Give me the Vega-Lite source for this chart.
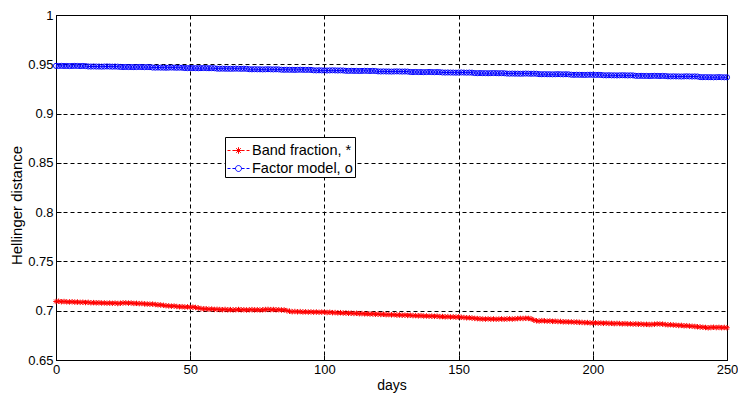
{
  "$schema": "https://vega.github.io/schema/vega-lite/v6.json",
  "width": 671,
  "height": 345,
  "autosize": {"type": "none"},
  "padding": {"left": 56, "top": 15, "right": 11, "bottom": 41},
  "background": "white",
  "config": {
    "font": "Liberation Sans",
    "view": {"stroke": "black", "strokeWidth": 1},
    "axis": {
      "domainColor": "black", "domainWidth": 1, "labelFlush": false,
      "tickColor": "black", "tickSize": -5, "tickWidth": 1,
      "labelPadding": 8, "labelFont": "Liberation Sans", "labelFontSize": 13, "labelColor": "black",
      "titleFont": "Liberation Sans", "titleFontSize": 14, "titleFontWeight": "normal", "titleColor": "black",
      "grid": true, "gridColor": "black", "gridDash": [4, 3], "gridOpacity": 1, "gridWidth": 1
    }
  },
  "data": {"values": [
{"d":0,"b":0.9484,"r":0.7094},{"d":1,"b":0.9483,"r":0.7096},{"d":2,"b":0.9484,"r":0.7091},{"d":3,"b":0.9483,"r":0.7093},{"d":4,"b":0.9483,"r":0.7090},
{"d":5,"b":0.9482,"r":0.7089},{"d":6,"b":0.9483,"r":0.7091},{"d":7,"b":0.9484,"r":0.7087},{"d":8,"b":0.9483,"r":0.7088},{"d":9,"b":0.9482,"r":0.7085},
{"d":10,"b":0.9483,"r":0.7086},{"d":11,"b":0.9482,"r":0.7083},{"d":12,"b":0.9478,"r":0.7085},{"d":13,"b":0.9477,"r":0.7081},{"d":14,"b":0.9478,"r":0.7082},
{"d":15,"b":0.9477,"r":0.7080},{"d":16,"b":0.9477,"r":0.7081},{"d":17,"b":0.9476,"r":0.7078},{"d":18,"b":0.9477,"r":0.7079},{"d":19,"b":0.9478,"r":0.7076},
{"d":20,"b":0.9477,"r":0.7078},{"d":21,"b":0.9476,"r":0.7075},{"d":22,"b":0.9477,"r":0.7077},{"d":23,"b":0.9476,"r":0.7073},{"d":24,"b":0.9473,"r":0.7076},
{"d":25,"b":0.9472,"r":0.7079},{"d":26,"b":0.9473,"r":0.7080},{"d":27,"b":0.9472,"r":0.7077},{"d":28,"b":0.9472,"r":0.7078},{"d":29,"b":0.9471,"r":0.7074},
{"d":30,"b":0.9472,"r":0.7075},{"d":31,"b":0.9473,"r":0.7072},{"d":32,"b":0.9472,"r":0.7073},{"d":33,"b":0.9471,"r":0.7069},{"d":34,"b":0.9472,"r":0.7068},
{"d":35,"b":0.9471,"r":0.7066},{"d":36,"b":0.9467,"r":0.7067},{"d":37,"b":0.9466,"r":0.7063},{"d":38,"b":0.9467,"r":0.7060},{"d":39,"b":0.9466,"r":0.7058},
{"d":40,"b":0.9466,"r":0.7055},{"d":41,"b":0.9465,"r":0.7051},{"d":42,"b":0.9466,"r":0.7049},{"d":43,"b":0.9467,"r":0.7046},{"d":44,"b":0.9466,"r":0.7047},
{"d":45,"b":0.9465,"r":0.7043},{"d":46,"b":0.9466,"r":0.7040},{"d":47,"b":0.9465,"r":0.7041},{"d":48,"b":0.9462,"r":0.7038},{"d":49,"b":0.9461,"r":0.7039},
{"d":50,"b":0.9462,"r":0.7035},{"d":51,"b":0.9461,"r":0.7036},{"d":52,"b":0.9461,"r":0.7033},{"d":53,"b":0.9460,"r":0.7028},{"d":54,"b":0.9461,"r":0.7022},
{"d":55,"b":0.9462,"r":0.7018},{"d":56,"b":0.9461,"r":0.7019},{"d":57,"b":0.9460,"r":0.7015},{"d":58,"b":0.9461,"r":0.7017},{"d":59,"b":0.9460,"r":0.7013},
{"d":60,"b":0.9456,"r":0.7014},{"d":61,"b":0.9455,"r":0.7012},{"d":62,"b":0.9456,"r":0.7010},{"d":63,"b":0.9455,"r":0.7013},{"d":64,"b":0.9455,"r":0.7009},
{"d":65,"b":0.9454,"r":0.7011},{"d":66,"b":0.9455,"r":0.7008},{"d":67,"b":0.9456,"r":0.7010},{"d":68,"b":0.9455,"r":0.7012},{"d":69,"b":0.9454,"r":0.7009},
{"d":70,"b":0.9455,"r":0.7010},{"d":71,"b":0.9454,"r":0.7007},{"d":72,"b":0.9450,"r":0.7009},{"d":73,"b":0.9449,"r":0.7011},{"d":74,"b":0.9450,"r":0.7008},
{"d":75,"b":0.9449,"r":0.7010},{"d":76,"b":0.9449,"r":0.7007},{"d":77,"b":0.9448,"r":0.7009},{"d":78,"b":0.9449,"r":0.7012},{"d":79,"b":0.9450,"r":0.7013},
{"d":80,"b":0.9449,"r":0.7011},{"d":81,"b":0.9448,"r":0.7012},{"d":82,"b":0.9449,"r":0.7009},{"d":83,"b":0.9448,"r":0.7010},{"d":84,"b":0.9445,"r":0.7007},
{"d":85,"b":0.9444,"r":0.7008},{"d":86,"b":0.9445,"r":0.7001},{"d":87,"b":0.9444,"r":0.6995},{"d":88,"b":0.9444,"r":0.6990},{"d":89,"b":0.9443,"r":0.6992},
{"d":90,"b":0.9444,"r":0.6989},{"d":91,"b":0.9445,"r":0.6991},{"d":92,"b":0.9444,"r":0.6987},{"d":93,"b":0.9443,"r":0.6989},{"d":94,"b":0.9444,"r":0.6986},
{"d":95,"b":0.9443,"r":0.6988},{"d":96,"b":0.9439,"r":0.6985},{"d":97,"b":0.9438,"r":0.6987},{"d":98,"b":0.9439,"r":0.6984},{"d":99,"b":0.9438,"r":0.6986},
{"d":100,"b":0.9438,"r":0.6985},{"d":101,"b":0.9437,"r":0.6982},{"d":102,"b":0.9438,"r":0.6984},{"d":103,"b":0.9439,"r":0.6980},{"d":104,"b":0.9438,"r":0.6981},
{"d":105,"b":0.9437,"r":0.6978},{"d":106,"b":0.9438,"r":0.6980},{"d":107,"b":0.9437,"r":0.6976},{"d":108,"b":0.9434,"r":0.6977},{"d":109,"b":0.9433,"r":0.6974},
{"d":110,"b":0.9434,"r":0.6975},{"d":111,"b":0.9433,"r":0.6972},{"d":112,"b":0.9433,"r":0.6974},{"d":113,"b":0.9432,"r":0.6970},{"d":114,"b":0.9433,"r":0.6971},
{"d":115,"b":0.9434,"r":0.6968},{"d":116,"b":0.9433,"r":0.6969},{"d":117,"b":0.9432,"r":0.6966},{"d":118,"b":0.9433,"r":0.6968},{"d":119,"b":0.9432,"r":0.6964},
{"d":120,"b":0.9428,"r":0.6965},{"d":121,"b":0.9427,"r":0.6962},{"d":122,"b":0.9428,"r":0.6964},{"d":123,"b":0.9427,"r":0.6960},{"d":124,"b":0.9427,"r":0.6961},
{"d":125,"b":0.9426,"r":0.6958},{"d":126,"b":0.9427,"r":0.6960},{"d":127,"b":0.9428,"r":0.6956},{"d":128,"b":0.9427,"r":0.6957},{"d":129,"b":0.9426,"r":0.6954},
{"d":130,"b":0.9427,"r":0.6955},{"d":131,"b":0.9426,"r":0.6952},{"d":132,"b":0.9422,"r":0.6954},{"d":133,"b":0.9421,"r":0.6950},{"d":134,"b":0.9422,"r":0.6951},
{"d":135,"b":0.9421,"r":0.6948},{"d":136,"b":0.9421,"r":0.6950},{"d":137,"b":0.9420,"r":0.6946},{"d":138,"b":0.9421,"r":0.6947},{"d":139,"b":0.9422,"r":0.6944},
{"d":140,"b":0.9421,"r":0.6945},{"d":141,"b":0.9420,"r":0.6943},{"d":142,"b":0.9421,"r":0.6944},{"d":143,"b":0.9420,"r":0.6940},{"d":144,"b":0.9417,"r":0.6941},
{"d":145,"b":0.9416,"r":0.6938},{"d":146,"b":0.9417,"r":0.6940},{"d":147,"b":0.9416,"r":0.6936},{"d":148,"b":0.9416,"r":0.6938},{"d":149,"b":0.9415,"r":0.6935},
{"d":150,"b":0.9416,"r":0.6937},{"d":151,"b":0.9417,"r":0.6933},{"d":152,"b":0.9416,"r":0.6931},{"d":153,"b":0.9415,"r":0.6928},{"d":154,"b":0.9416,"r":0.6929},
{"d":155,"b":0.9415,"r":0.6925},{"d":156,"b":0.9411,"r":0.6922},{"d":157,"b":0.9410,"r":0.6920},{"d":158,"b":0.9411,"r":0.6918},{"d":159,"b":0.9410,"r":0.6916},
{"d":160,"b":0.9410,"r":0.6915},{"d":161,"b":0.9409,"r":0.6917},{"d":162,"b":0.9410,"r":0.6914},{"d":163,"b":0.9411,"r":0.6916},{"d":164,"b":0.9410,"r":0.6913},
{"d":165,"b":0.9409,"r":0.6915},{"d":166,"b":0.9410,"r":0.6917},{"d":167,"b":0.9409,"r":0.6914},{"d":168,"b":0.9406,"r":0.6916},{"d":169,"b":0.9405,"r":0.6918},
{"d":170,"b":0.9406,"r":0.6915},{"d":171,"b":0.9405,"r":0.6918},{"d":172,"b":0.9405,"r":0.6920},{"d":173,"b":0.9404,"r":0.6922},{"d":174,"b":0.9405,"r":0.6921},
{"d":175,"b":0.9406,"r":0.6923},{"d":176,"b":0.9405,"r":0.6922},{"d":177,"b":0.9404,"r":0.6918},{"d":178,"b":0.9405,"r":0.6905},{"d":179,"b":0.9404,"r":0.6898},
{"d":180,"b":0.9400,"r":0.6895},{"d":181,"b":0.9399,"r":0.6899},{"d":182,"b":0.9400,"r":0.6897},{"d":183,"b":0.9399,"r":0.6894},{"d":184,"b":0.9399,"r":0.6896},
{"d":185,"b":0.9398,"r":0.6892},{"d":186,"b":0.9399,"r":0.6893},{"d":187,"b":0.9400,"r":0.6890},{"d":188,"b":0.9399,"r":0.6891},{"d":189,"b":0.9398,"r":0.6887},
{"d":190,"b":0.9399,"r":0.6888},{"d":191,"b":0.9398,"r":0.6886},{"d":192,"b":0.9394,"r":0.6887},{"d":193,"b":0.9393,"r":0.6884},{"d":194,"b":0.9394,"r":0.6885},
{"d":195,"b":0.9393,"r":0.6882},{"d":196,"b":0.9393,"r":0.6881},{"d":197,"b":0.9392,"r":0.6879},{"d":198,"b":0.9393,"r":0.6880},{"d":199,"b":0.9394,"r":0.6877},
{"d":200,"b":0.9393,"r":0.6876},{"d":201,"b":0.9392,"r":0.6877},{"d":202,"b":0.9393,"r":0.6874},{"d":203,"b":0.9392,"r":0.6875},{"d":204,"b":0.9389,"r":0.6872},
{"d":205,"b":0.9388,"r":0.6874},{"d":206,"b":0.9389,"r":0.6871},{"d":207,"b":0.9388,"r":0.6872},{"d":208,"b":0.9388,"r":0.6869},{"d":209,"b":0.9387,"r":0.6871},
{"d":210,"b":0.9388,"r":0.6870},{"d":211,"b":0.9389,"r":0.6867},{"d":212,"b":0.9388,"r":0.6869},{"d":213,"b":0.9387,"r":0.6866},{"d":214,"b":0.9388,"r":0.6867},
{"d":215,"b":0.9387,"r":0.6864},{"d":216,"b":0.9383,"r":0.6866},{"d":217,"b":0.9382,"r":0.6863},{"d":218,"b":0.9383,"r":0.6864},{"d":219,"b":0.9382,"r":0.6861},
{"d":220,"b":0.9382,"r":0.6862},{"d":221,"b":0.9381,"r":0.6860},{"d":222,"b":0.9382,"r":0.6861},{"d":223,"b":0.9383,"r":0.6863},{"d":224,"b":0.9382,"r":0.6866},
{"d":225,"b":0.9381,"r":0.6865},{"d":226,"b":0.9382,"r":0.6864},{"d":227,"b":0.9381,"r":0.6860},{"d":228,"b":0.9378,"r":0.6857},{"d":229,"b":0.9377,"r":0.6858},
{"d":230,"b":0.9378,"r":0.6855},{"d":231,"b":0.9377,"r":0.6853},{"d":232,"b":0.9377,"r":0.6850},{"d":233,"b":0.9376,"r":0.6851},{"d":234,"b":0.9377,"r":0.6847},
{"d":235,"b":0.9378,"r":0.6848},{"d":236,"b":0.9377,"r":0.6844},{"d":237,"b":0.9376,"r":0.6842},{"d":238,"b":0.9377,"r":0.6840},{"d":239,"b":0.9376,"r":0.6837},
{"d":240,"b":0.9370,"r":0.6835},{"d":241,"b":0.9369,"r":0.6832},{"d":242,"b":0.9370,"r":0.6830},{"d":243,"b":0.9369,"r":0.6827},{"d":244,"b":0.9369,"r":0.6830},
{"d":245,"b":0.9368,"r":0.6832},{"d":246,"b":0.9369,"r":0.6829},{"d":247,"b":0.9370,"r":0.6831},{"d":248,"b":0.9369,"r":0.6828},{"d":249,"b":0.9368,"r":0.6830},
{"d":250,"b":0.9368,"r":0.6827}
  ]},
  "transform": [{"fold": ["r", "b"], "as": ["s", "v"]}],
  "encoding": {
    "x": {"field": "d", "type": "quantitative",
      "scale": {"domain": [0, 250], "nice": false},
      "axis": {"values": [0, 50, 100, 150, 200, 250], "title": "days", "titlePadding": 2}},
    "y": {"field": "v", "type": "quantitative",
      "scale": {"domain": [0.65, 1], "nice": false, "zero": false},
      "axis": {"values": [0.65, 0.7, 0.75, 0.8, 0.85, 0.9, 0.95, 1], "format": "~g", "title": "Hellinger distance", "titlePadding": 3, "titleFontSize": 15, "titleY": 190}},
    "color": {"field": "s", "type": "nominal",
      "scale": {"domain": ["r", "b"], "range": ["#ff0000", "#0000ff"]},
      "legend": {"title": null, "orient": "none", "legendX": 169, "legendY": 122,
        "fillColor": "white", "strokeColor": "black", "padding": 2, "rowPadding": 0,
        "symbolSize": 484, "symbolStrokeWidth": 1, "labelOffset": 2, "symbolOpacity": 1,
        "labelFont": "Liberation Sans", "labelFontSize": 14.5, "labelColor": "black",
        "labelExpr": "datum.label == 'r' ? 'Band fraction, *' : 'Factor model, o'"}}
  },
  "layer": [
    {"mark": {"type": "point", "filled": false, "strokeWidth": 1, "size": 484},
     "transform": [{"filter": "datum.d < 0"}],
     "encoding": {
       "shape": {"field": "s", "type": "nominal",
         "scale": {"domain": ["r", "b"], "range": [
           "M-1,0L-0.73,0M-0.55,0L-0.27,0M0.27,0L0.55,0M0.73,0L1,0M-0.3,0L0.3,0M0,-0.3L0,0.3M-0.21,-0.21L0.21,0.21M-0.21,0.21L0.21,-0.21",
           "M-1,0L-0.73,0M-0.55,0L-0.27,0M0.27,0L0.55,0M0.73,0L1,0M-0.27,0A0.27,0.27 0 1,1 0.27,0A0.27,0.27 0 1,1 -0.27,0"]},
         "legend": {"title": null, "orient": "none", "legendX": 169, "legendY": 122,
           "fillColor": "white", "strokeColor": "black", "padding": 2, "rowPadding": 0,
           "symbolSize": 484, "symbolStrokeWidth": 1, "labelOffset": 2, "symbolOpacity": 1,
           "labelFont": "Liberation Sans", "labelFontSize": 14.5, "labelColor": "black",
           "labelExpr": "datum.label == 'r' ? 'Band fraction, *' : 'Factor model, o'"}}
     }},
    {"mark": {"type": "line", "strokeWidth": 1},
     "encoding": {"color": {"field": "s", "type": "nominal", "legend": null}}},
    {"transform": [{"filter": "datum.s == 'r'"}],
     "mark": {"type": "point", "shape": "M-1,0L1,0M0,-1L0,1M-0.7,-0.7L0.7,0.7M-0.7,0.7L0.7,-0.7", "size": 30, "filled": false, "strokeWidth": 1, "opacity": 1, "color": "#ff0000"}},
    {"transform": [{"filter": "datum.s == 'b'"}],
     "mark": {"type": "point", "shape": "circle", "size": 26, "filled": false, "strokeWidth": 1, "opacity": 1, "color": "#0000ff"}}
  ]
}
